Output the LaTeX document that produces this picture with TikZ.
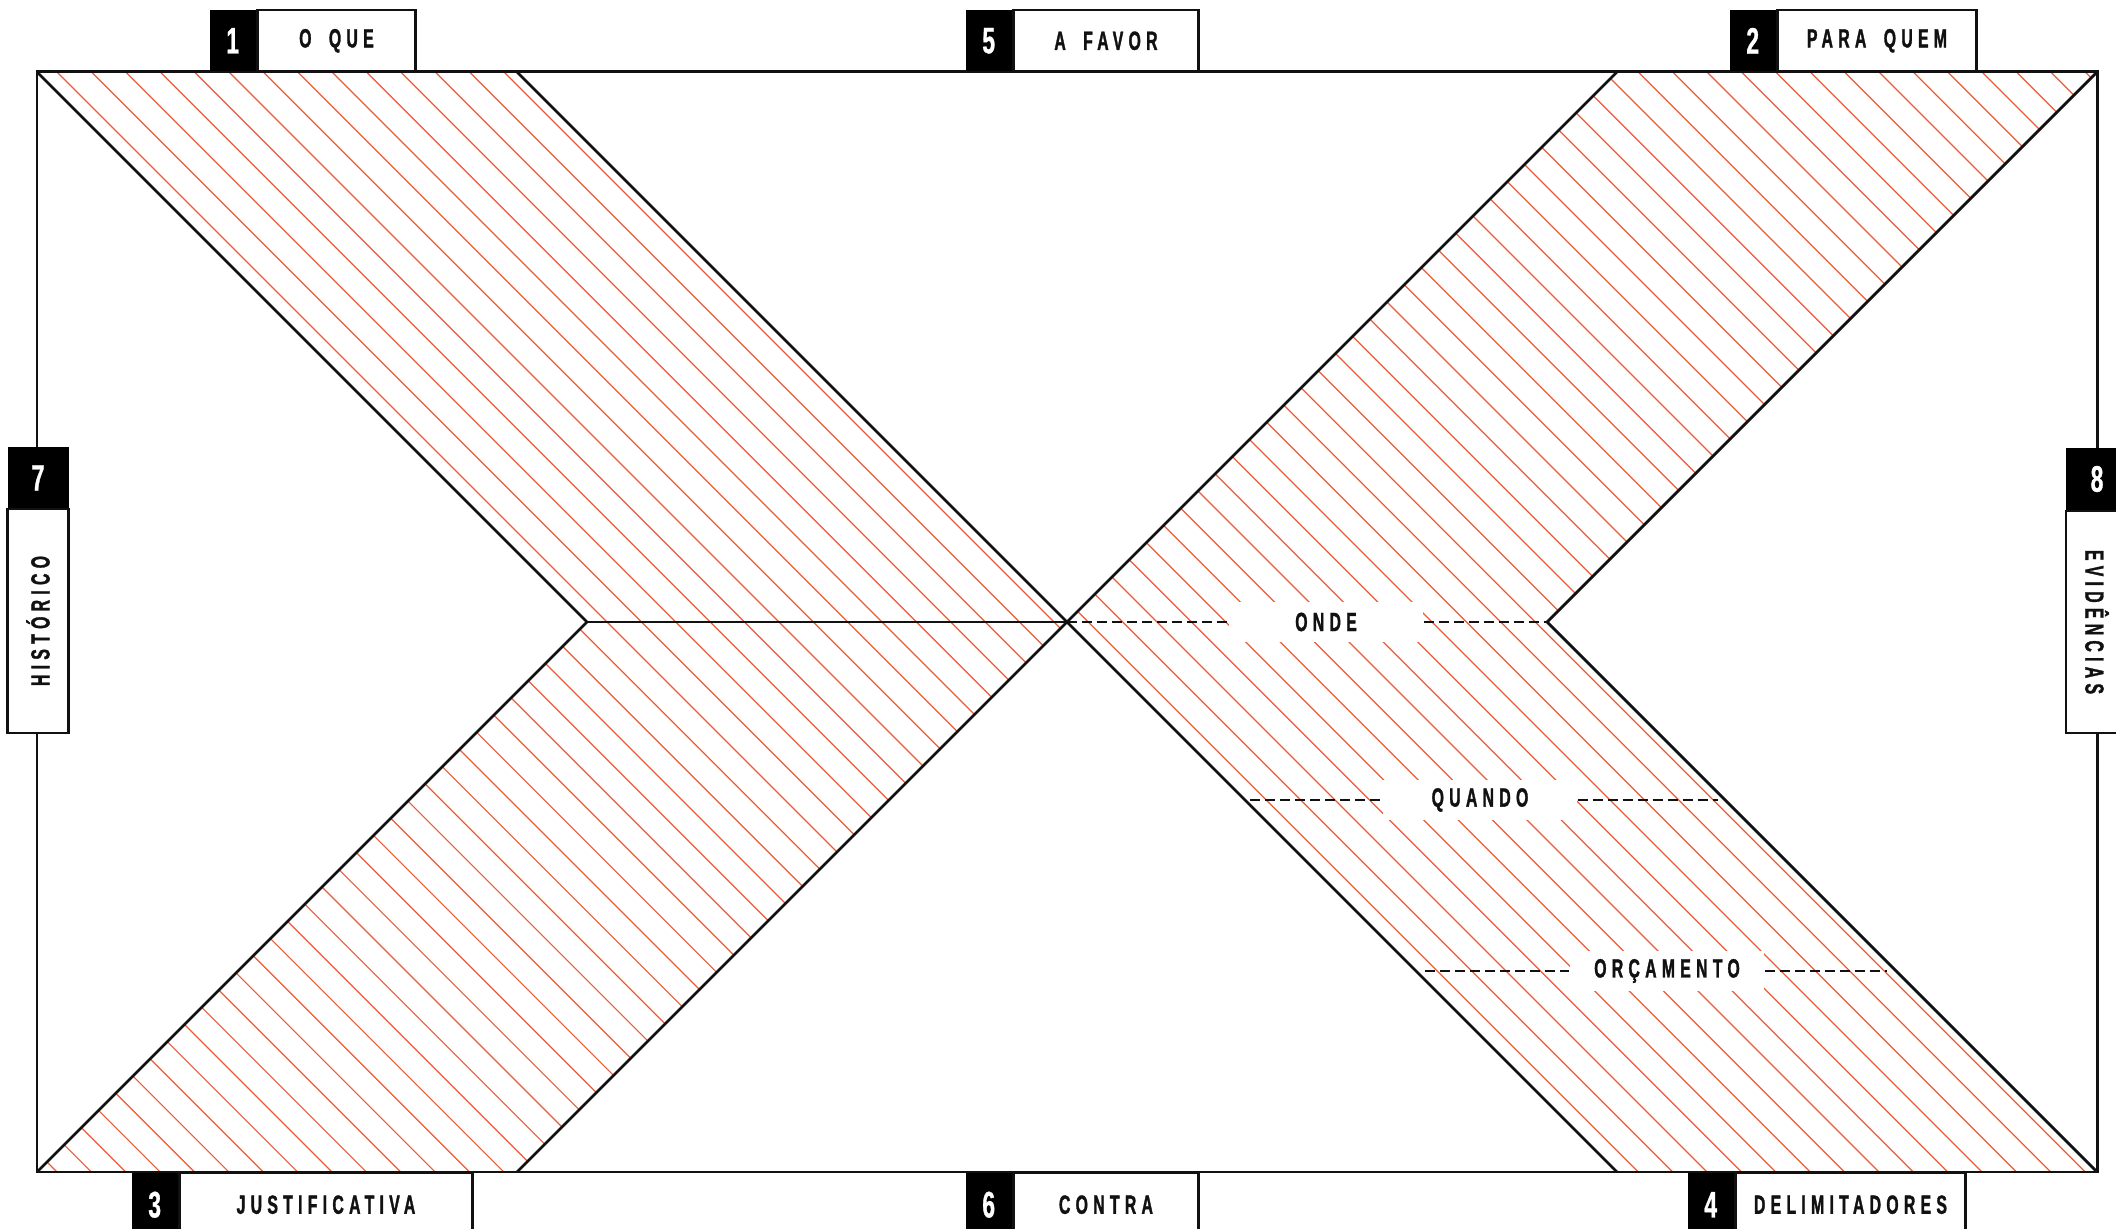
\documentclass[tikz,border=0pt]{standalone}
\usepackage{fontspec}
\usetikzlibrary{positioning}
\newfontfamily\labelfont[FakeStretch=0.6,LetterSpace=20,WordSpace=1.8,FakeBold=1.2]{Liberation Sans}
\newfontfamily\digitfont[FakeStretch=0.62,FakeBold=0.8]{Liberation Sans}
\definecolor{hatchcolor}{HTML}{EC5B37}
\definecolor{ink}{HTML}{111111}
\tikzset{
  hatch/.style={
    draw=hatchcolor,
    line width=0.35pt
  },
  frame/.style={
    draw=ink,
    line width=0.85pt
  },
  edge/.style={
    draw=ink,
    line width=0.8pt,
    line join=miter
  },
  guide/.style={
    draw=ink,
    line width=0.75pt,
    dash pattern=on 1mm off 0.5mm
  },
  bandlabel/.style={
    fill=white,
    text=ink,
    minimum width=19.4mm,
    minimum height=4mm,
    inner sep=0pt,
    font=\fontsize{7.5}{9}\labelfont\bfseries
  },
  numbox/.style={
    fill=black,
    text=white,
    minimum width=4.6mm,
    minimum height=6.1mm,
    inner sep=0pt,
    font=\fontsize{10.5}{12}\digitfont\bfseries
  },
  tabbox/.style={
    draw=ink,
    fill=white,
    text=ink,
    line width=0.6pt,
    minimum height=6.1mm,
    inner sep=0pt,
    font=\fontsize{7.5}{9}\labelfont\bfseries
  }
}

\begin{document}
\begin{tikzpicture}[x=0.1mm,y=-0.1mm]
  \useasboundingbox (0,0) rectangle (2116,1229);

  % Corners of the canvas and the points where the bands meet.
  \coordinate (tl) at (37,72);
  \coordinate (tr) at (2097,72);
  \coordinate (bl) at (37,1172);
  \coordinate (br) at (2097,1172);
  \coordinate (cross) at (1067,622);
  \coordinate (lvert) at (587,622);
  \coordinate (rvert) at (1547,622);
  \coordinate (ltop) at (517,72);
  \coordinate (rtop) at (1617,72);
  \coordinate (lbot) at (517,1172);
  \coordinate (rbot) at (1617,1172);

  % Hatching of the four bands.
  \begin{scope}
    \clip (tl) -- (ltop) -- (cross) -- (lvert) -- cycle
          (lvert) -- (cross) -- (lbot) -- (bl) -- cycle
          (cross) -- (rtop) -- (tr) -- (rvert) -- cycle
          (cross) -- (rvert) -- (br) -- (rbot) -- cycle;
    \foreach \k in {-33,...,60}
      \draw[hatch] ({-15+34.375*\k},0) -- ++(1250,1250);
  \end{scope}

  \draw[frame] (tl) rectangle (br);
  \draw[edge] (tl) -- (lvert) -- (bl);
  \draw[edge] (ltop) -- (cross) -- (lbot);
  \draw[edge] (rtop) -- (cross) -- (rbot);
  \draw[edge] (tr) -- (rvert) -- (br);
  \draw[edge] (lvert) -- (cross);

  % Rows inside the lower right band.
  \node[bandlabel] (onde) at (1326,622) {ONDE};
  \node[bandlabel] (quando) at (1480,800) {QUANDO};
  \node[bandlabel] (orcamento) at (1667,971) {ORÇAMENTO};

  \coordinate (q1) at (1250,800);
  \coordinate (q2) at (1718,800);
  \coordinate (o1) at (1425,971);
  \coordinate (o2) at (1887,971);

  \draw[guide] (cross) -- (onde);
  \draw[guide] (onde) -- (rvert);
  \draw[guide] (q1) -- (quando);
  \draw[guide] (quando) -- (q2);
  \draw[guide] (o1) -- (orcamento);
  \draw[guide] (orcamento) -- (o2);

  % Tabs on the top edge.
  \node[numbox,anchor=south west] (n1) at (209,72) {1};
  \node[tabbox,minimum width=15.8mm,right=0pt of n1] (t1) {O QUE};

  \node[numbox,anchor=south west] (n5) at (965,72) {5};
  \node[tabbox,minimum width=18.5mm,right=0pt of n5] (t5) {A FAVOR};

  \node[numbox,anchor=south west] (n2) at (1729,72) {2};
  \node[tabbox,minimum width=19.9mm,right=0pt of n2] (t2) {PARA QUEM};

  % Tabs on the bottom edge.
  \node[numbox,anchor=north west,minimum height=6.4mm] (n3) at (131,1172) {3};
  \node[tabbox,minimum width=29.3mm,minimum height=6.4mm,right=0pt of n3] (t3) {JUSTIFICATIVA};

  \node[numbox,anchor=north west,minimum height=6.4mm] (n6) at (965,1172) {6};
  \node[tabbox,minimum width=18.5mm,minimum height=6.4mm,right=0pt of n6] (t6) {CONTRA};

  \node[numbox,anchor=north west,minimum height=6.4mm] (n4) at (1687,1172) {4};
  \node[tabbox,minimum width=23mm,minimum height=6.4mm,right=0pt of n4] (t4) {DELIMITADORES};

  % Tabs on the sides.
  \node[numbox,minimum width=6.1mm,minimum height=6.2mm] (n7) at (38,478) {7};
  \node[tabbox,rotate=90,minimum width=22.4mm,minimum height=6.1mm] (t7) at (38,621) {HISTÓRICO};

  \node[numbox,minimum width=6.2mm,minimum height=6.2mm] (n8) at (2097,479) {8};
  \node[tabbox,rotate=-90,minimum width=22.2mm,minimum height=6.2mm] (t8) at (2097,622) {EVIDÊNCIAS};

\end{tikzpicture}
\end{document}
